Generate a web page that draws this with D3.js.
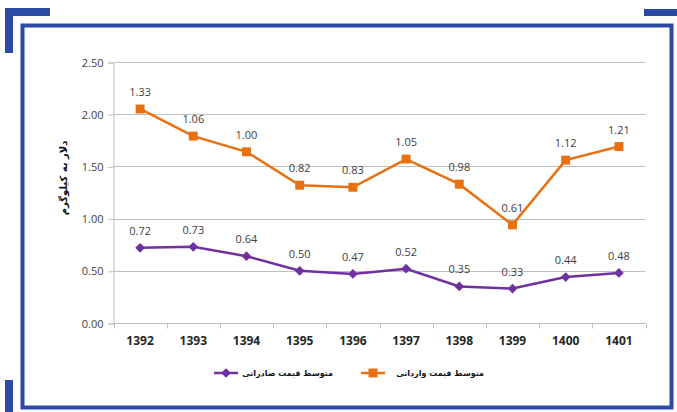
<!DOCTYPE html>
<html>
<head>
<meta charset="utf-8">
<script src="https://cdn.jsdelivr.net/npm/d3@7"></script>
<style>
  html, body { margin: 0; padding: 0; background: #fff; }
  svg { display: block; }
</style>
</head>
<body>
<svg id="chart" width="677" height="412"></svg>
<script>
// Years (Solar Hijri) and average prices in dollars per kilogram
const years = ["1392", "1393", "1394", "1395", "1396", "1397", "1398", "1399", "1400", "1401"];
const exportPrice = [0.72, 0.73, 0.64, 0.50, 0.47, 0.52, 0.35, 0.33, 0.44, 0.48];
const importPrice = [1.33, 1.06, 1.00, 0.82, 0.83, 1.05, 0.98, 0.61, 1.12, 1.21];
const yTicks = [0, 0.5, 1.0, 1.5, 2.0, 2.5];
const seriesNames = ["متوسط قیمت صادراتی", "متوسط قیمت وارداتی"];
const yTitle = "دلار به کیلوگرم";

const svg = d3.select("#chart");
const frameColor = "#2b4aa6";
const purple = "#7030a0";
const orange = "#e8700f";
const numFont = "'Open Sans', 'Noto Sans', sans-serif";
const faFont = "'DejaVu Sans', sans-serif";

// Decorative frame
svg.append("rect").attr("x", 22.5).attr("y", 25.5).attr("width", 649).attr("height", 382)
  .attr("fill", "none").attr("stroke", frameColor).attr("stroke-width", 4);
const bars = [
  [5, 8, 45, 8], [5, 8, 8, 45], [644, 9, 33, 7], [5, 380, 8, 32]
];
svg.selectAll("rect.deco").data(bars).join("rect").attr("class", "deco")
  .attr("x", d => d[0]).attr("y", d => d[1]).attr("width", d => d[2]).attr("height", d => d[3])
  .attr("fill", frameColor);

// Stacked layout: import line sits on top of the export line
const rows = years.map((y, i) => ({ year: y, exp: exportPrice[i], imp: importPrice[i] }));
const stack = d3.stack().keys(["exp", "imp"])(rows);

const x = d3.scaleBand().domain(years).range([113.5, 645.5]);
const y = d3.scaleLinear().domain([0, 2.5]).range([323, 62]);

// Gridlines
svg.append("g").selectAll("line").data(yTicks.filter(d => d > 0)).join("line")
  .attr("x1", 113.5).attr("x2", 645.5)
  .attr("y1", d => Math.round(y(d)) + 0.5).attr("y2", d => Math.round(y(d)) + 0.5)
  .attr("stroke", "#bfbfbf").attr("stroke-width", 1);

// Y axis
const yAxis = svg.append("g").attr("transform", "translate(113.5,0.5)")
  .call(d3.axisLeft(y).tickValues(yTicks).tickFormat(d3.format(".2f")).tickSize(5).tickPadding(5));
yAxis.select(".domain").attr("stroke", "#bfbfbf");
yAxis.selectAll(".tick line").attr("stroke", "#bfbfbf");
yAxis.selectAll("text").attr("font-family", numFont).attr("font-size", 11).attr("fill", "#404040");

// X axis with ticks at band boundaries
const xAxisG = svg.append("g").attr("transform", "translate(0,323.5)");
xAxisG.append("line").attr("x1", 113.5).attr("x2", 645.5).attr("stroke", "#bfbfbf");
const bounds = years.map(d => x(d)).concat([x.range()[1]]);
xAxisG.selectAll("line.tk").data(bounds).join("line").attr("class", "tk")
  .attr("x1", d => Math.round(d) + 0.5).attr("x2", d => Math.round(d) + 0.5)
  .attr("y1", 0).attr("y2", 5).attr("stroke", "#bfbfbf");
xAxisG.selectAll("text").data(years).join("text")
  .attr("x", d => x(d) + x.bandwidth() / 2).attr("y", 21)
  .attr("text-anchor", "middle").attr("font-family", numFont).attr("font-weight", "bold")
  .attr("font-size", 12).attr("fill", "#262626").text(d => d);

// Y axis title
svg.append("text").attr("transform", "translate(67,178) rotate(-90)")
  .attr("text-anchor", "middle").attr("font-family", faFont).attr("font-weight", "bold")
  .attr("font-size", 10).attr("fill", "#111").text(yTitle);

const cx = d => x(d.data.year) + x.bandwidth() / 2;
const line = d3.line().x(cx).y(d => y(d[1]));
const colors = [purple, orange];
const diamond = d3.symbol().type(d3.symbolDiamond2).size(60);
const square = d3.symbol().type(d3.symbolSquare).size(80);

stack.forEach((layer, si) => {
  svg.append("path").datum(layer).attr("d", line).attr("fill", "none")
    .attr("stroke", colors[si]).attr("stroke-width", 2.5);
  svg.append("g").selectAll("path").data(layer).join("path")
    .attr("transform", d => `translate(${cx(d)},${y(d[1])})`)
    .attr("d", si === 0 ? diamond : square).attr("fill", colors[si]);
  svg.append("g").selectAll("text").data(layer).join("text")
    .attr("x", cx).attr("y", d => y(d[1]) - 13)
    .attr("text-anchor", "middle").attr("font-family", numFont).attr("font-size", 11)
    .attr("fill", "#404040").text(d => d3.format(".2f")(d[1] - d[0]));
});

// Legend
const legend = [
  { name: seriesNames[0], color: purple, sym: diamond, lx: 214, tx: 333 },
  { name: seriesNames[1], color: orange, sym: square, lx: 361, tx: 484 }
];
const lg = svg.append("g");
legend.forEach(d => {
  lg.append("line").attr("x1", d.lx).attr("x2", d.lx + 24).attr("y1", 373).attr("y2", 373)
    .attr("stroke", d.color).attr("stroke-width", 2.5);
  lg.append("path").attr("transform", `translate(${d.lx + 12},373)`).attr("d", d.sym).attr("fill", d.color);
  lg.append("text").attr("x", d.tx).attr("y", 376).attr("text-anchor", "end")
    .attr("font-family", faFont).attr("font-weight", "bold")
    .attr("font-size", 8).attr("fill", "#111").text(d.name);
});
</script>
</body>
</html>
